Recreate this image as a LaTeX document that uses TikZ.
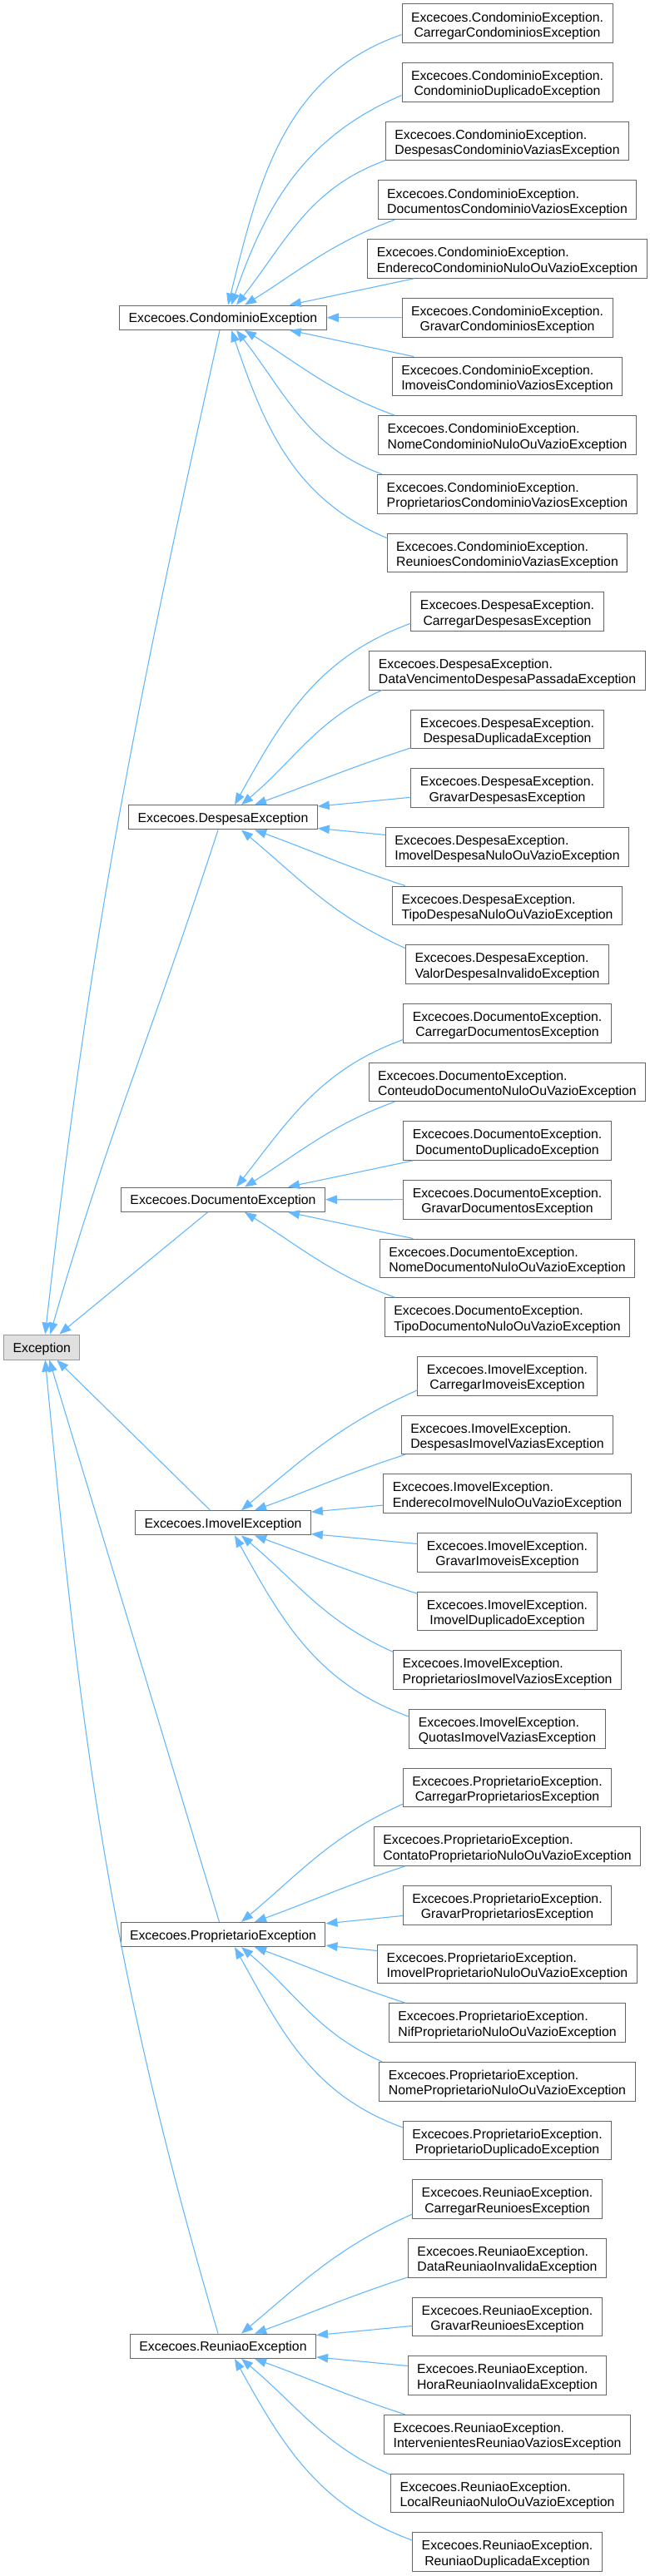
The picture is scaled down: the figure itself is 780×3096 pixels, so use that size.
\documentclass[tikz,border=0pt]{standalone}
\usepackage{fontspec}
\setmainfont{Liberation Sans}
\usetikzlibrary{arrows.meta,calc}
\definecolor{edgeblue}{HTML}{63B8FF}
\definecolor{boxgray}{HTML}{666666}
\definecolor{rootgray}{HTML}{999999}
\definecolor{rootfill}{HTML}{E0E0E0}
\newcommand\lblfont{\fontsize{15.8}{18.3}\selectfont}
\newcommand\twoline[2]{\begin{tabular}[t]{@{}l@{}}#1\\\multicolumn{1}{@{}c@{}}{#2}\end{tabular}}
\newcommand\cedge[3]{%
  \pgfmathtruncatemacro\ad{abs(#3)}%
  \ifnum\ad=0
    \draw[edge] (#1) -- (#2);
  \else\ifnum\ad=1
    \ifnum#3<0 \draw[edge] (#1) -- ($(#2.north east)+(0,-2)$);
    \else \draw[edge] (#1) -- ($(#2.south east)+(0,2)$); \fi
  \else\ifnum\ad=2
    \ifnum#3<0 \draw[edge] (#1) -- ($(#2.north east)+(-45,0)$);
    \else \draw[edge] (#1) -- ($(#2.south east)+(-45,0)$); \fi
  \else
    \pgfmathtruncatemacro\aA{{0,0,0,191,190,189,189,187,187,187,186}[\ad]}%
    \pgfmathsetmacro\aO{{0,0,0,198,200,204,200,200,203,203,199}[\ad]}%
    \pgfmathsetmacro\aI{{0,0,0,20,32,40,52,61,71,71,76}[\ad]}%
    \pgfmathsetmacro\aT{{0,0,0,38,26,22,16,14,10,10,6}[\ad]}%
    \ifnum#3<0
      \draw[edge] (#1.\aA) to[out=\aO,in=\aI] ($(#2.north)+(\aT,0)$);
    \else
      \pgfmathtruncatemacro\bA{360-\aA}%
      \pgfmathsetmacro\bO{360-\aO}%
      \draw[edge] (#1.\bA) to[out=\bO,in=-\aI] ($(#2.south)+(\aT,0)$);
    \fi
  \fi\fi\fi}
\begin{document}
\begin{tikzpicture}[x=1pt,y=1pt,
  child/.style={draw=boxgray, fill=white, line width=1pt, minimum height=46.67pt,
    inner xsep=11pt, inner ysep=0pt, text height=13pt, text depth=17.6pt, font=\lblfont},
  mid/.style={draw=boxgray, fill=white, line width=1pt, minimum height=29.33pt,
    inner xsep=11pt, inner ysep=0pt, text height=13.9pt, text depth=1.7pt, font=\lblfont},
  root/.style={draw=rootgray, fill=rootfill, line width=1pt, minimum height=30pt,
    inner xsep=11pt, inner ysep=0pt, text height=14.5pt, text depth=1.1pt, font=\lblfont},
  edge/.style={draw=edgeblue, line width=1.1pt, -{Triangle[length=14pt,width=10.5pt]}}]
\fill[white] (0,0) rectangle (780,-3096);
% children
\foreach \k/\p/\n in {
 0/Condominio/CarregarCondominiosException,
 1/Condominio/CondominioDuplicadoException,
 2/Condominio/DespesasCondominioVaziasException,
 3/Condominio/DocumentosCondominioVaziosException,
 4/Condominio/EnderecoCondominioNuloOuVazioException,
 5/Condominio/GravarCondominiosException,
 6/Condominio/ImoveisCondominioVaziosException,
 7/Condominio/NomeCondominioNuloOuVazioException,
 8/Condominio/ProprietariosCondominioVaziosException,
 9/Condominio/ReunioesCondominioVaziasException,
 10/Despesa/CarregarDespesasException,
 11/Despesa/DataVencimentoDespesaPassadaException,
 12/Despesa/DespesaDuplicadaException,
 13/Despesa/GravarDespesasException,
 14/Despesa/ImovelDespesaNuloOuVazioException,
 15/Despesa/TipoDespesaNuloOuVazioException,
 16/Despesa/ValorDespesaInvalidoException,
 17/Documento/CarregarDocumentosException,
 18/Documento/ConteudoDocumentoNuloOuVazioException,
 19/Documento/DocumentoDuplicadoException,
 20/Documento/GravarDocumentosException,
 21/Documento/NomeDocumentoNuloOuVazioException,
 22/Documento/TipoDocumentoNuloOuVazioException,
 23/Imovel/CarregarImoveisException,
 24/Imovel/DespesasImovelVaziasException,
 25/Imovel/EnderecoImovelNuloOuVazioException,
 26/Imovel/GravarImoveisException,
 27/Imovel/ImovelDuplicadoException,
 28/Imovel/ProprietariosImovelVaziosException,
 29/Imovel/QuotasImovelVaziasException,
 30/Proprietario/CarregarProprietariosException,
 31/Proprietario/ContatoProprietarioNuloOuVazioException,
 32/Proprietario/GravarProprietariosException,
 33/Proprietario/ImovelProprietarioNuloOuVazioException,
 34/Proprietario/NifProprietarioNuloOuVazioException,
 35/Proprietario/NomeProprietarioNuloOuVazioException,
 36/Proprietario/ProprietarioDuplicadoException,
 37/Reuniao/CarregarReunioesException,
 38/Reuniao/DataReuniaoInvalidaException,
 39/Reuniao/GravarReunioesException,
 40/Reuniao/HoraReuniaoInvalidaException,
 41/Reuniao/IntervenientesReuniaoVaziosException,
 42/Reuniao/LocalReuniaoNuloOuVazioException,
 43/Reuniao/ReuniaoDuplicadaException}
 {\node[child] (c\k) at (609.5,{-28.33-70.667*\k}) {\twoline{Excecoes.\p Exception.}{\n}};}
% middle nodes
\node[mid] (cond) at (268,-381.7) {Excecoes.CondominioException};
\node[mid] (desp) at (268,-982.3) {Excecoes.DespesaException};
\node[mid] (doc)  at (268,-1441.7) {Excecoes.DocumentoException};
\node[mid] (imov) at (268,-1830.3) {Excecoes.ImovelException};
\node[mid] (prop) at (268,-2325) {Excecoes.ProprietarioException};
\node[mid] (reun) at (268,-2819.7) {Excecoes.ReuniaoException};
% root
\node[root] (exc) at (50.3,-1619) {Exception};
% child -> middle edges
\foreach \k/\m/\d in {0/cond/-10,1/cond/-8,2/cond/-6,3/cond/-4,4/cond/-2,5/cond/0,
 6/cond/2,7/cond/4,8/cond/6,9/cond/8,
 10/desp/-7,11/desp/-5,12/desp/-3,13/desp/-1,14/desp/1,15/desp/3,16/desp/5,
 17/doc/-6,18/doc/-4,19/doc/-2,20/doc/0,21/doc/2,22/doc/4,
 23/imov/-5,24/imov/-3,25/imov/-1,26/imov/1,27/imov/3,28/imov/5,29/imov/7,
 30/prop/-5,31/prop/-3,32/prop/-1,33/prop/1,34/prop/3,35/prop/5,36/prop/7,
 37/reun/-5,38/reun/-3,39/reun/-1,40/reun/1,41/reun/3,42/reun/5,43/reun/7}
 {\cedge{c\k}{\m}{\d}}
% middle -> root edges
\draw[edge] ($(cond.south)+(-4,0)$) .. controls (160,-865) and (108,-1127) .. ($(exc.north)+(4,0)$);
\draw[edge] ($(desp.south)+(-6,0)$) .. controls (185,-1235) and (129,-1364) .. ($(exc.north)+(10,0)$);
\draw[edge] (doc) -- ($(exc.north)+(21,0)$);
\draw[edge] (imov) -- ($(exc.south)+(18,0)$);
\draw[edge] (prop) -- ($(exc.south)+(9,0)$);
\draw[edge] ($(reun.north)+(-6,0)$) .. controls (131,-2358) and (98,-2097) .. ($(exc.south)+(4,0)$);
\end{tikzpicture}
\end{document}
